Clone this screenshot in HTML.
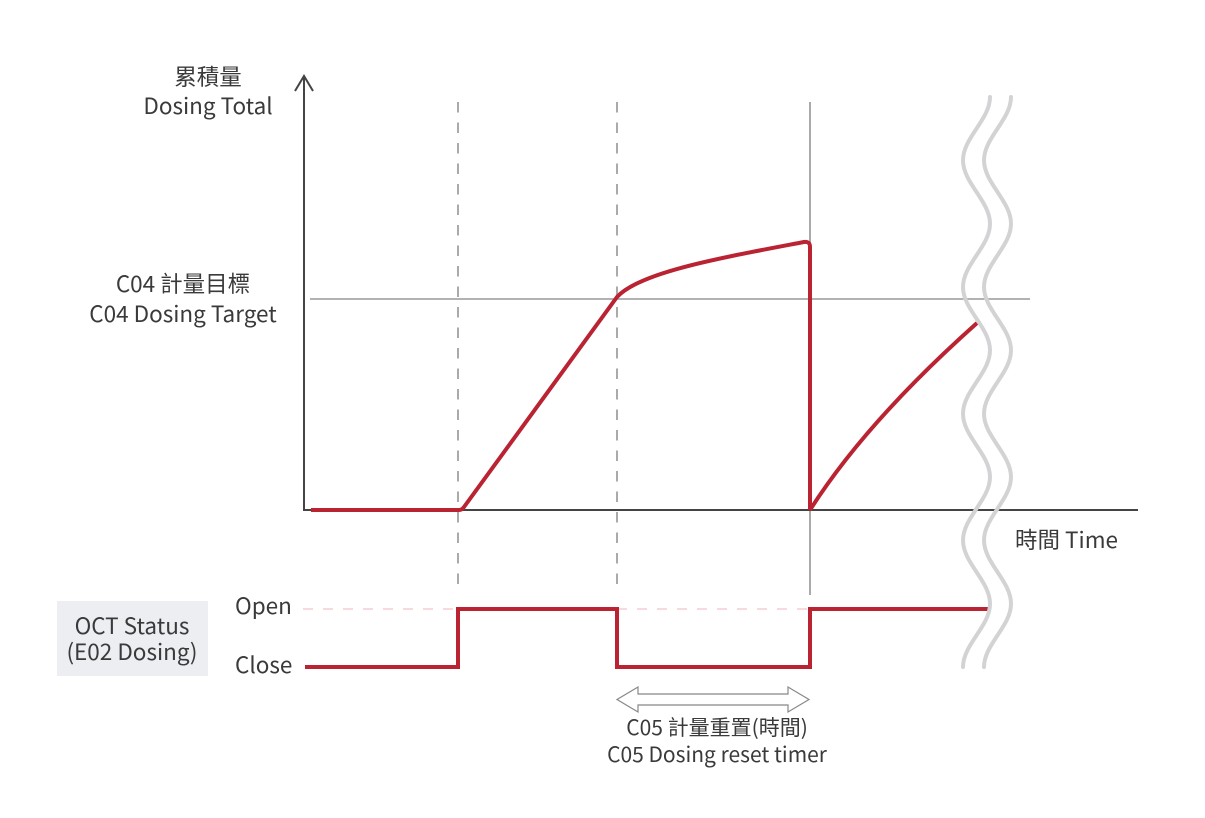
<!DOCTYPE html>
<html><head><meta charset="utf-8"><style>
html,body{margin:0;padding:0;background:#fff;}
svg{display:block;}
text{font-family:"Noto Sans CJK TC","Liberation Sans","Noto Sans CJK SC",sans-serif;fill:#3a3a3a;font-size:22.5px;}
text.s{font-size:21px;}
</style></head><body>
<svg width="1205" height="818" viewBox="0 0 1205 818" xmlns="http://www.w3.org/2000/svg">
<rect width="1205" height="818" fill="#fff"/>
<!-- grey vertical guides -->
<line x1="458" y1="102" x2="458" y2="592" stroke="#aaa" stroke-width="2" stroke-dasharray="10.5 10"/>
<line x1="617" y1="102" x2="617" y2="592" stroke="#aaa" stroke-width="2" stroke-dasharray="10.5 10"/>
<line x1="810" y1="102" x2="810" y2="595" stroke="#aaa" stroke-width="2"/>
<!-- target line -->
<line x1="310" y1="299" x2="1030" y2="299" stroke="#999" stroke-width="1.5"/>
<!-- axes -->
<line x1="304" y1="76" x2="304" y2="511" stroke="#444" stroke-width="2"/>
<line x1="303" y1="510" x2="1138" y2="510" stroke="#444" stroke-width="2"/>
<polyline points="295,91 304,76 313,91" fill="none" stroke="#444" stroke-width="2"/>
<!-- open pink dashed -->
<line x1="303" y1="609" x2="458" y2="609" stroke="#f7d9de" stroke-width="2" stroke-dasharray="10 10"/>
<line x1="617" y1="609" x2="810" y2="609" stroke="#f7d9de" stroke-width="2" stroke-dasharray="10 10"/>
<!-- red curves -->
<path d="M311 510 L459 510 Q462 510 464 507 L617 297 C640 272 720 258 804 242 Q810 241 810 247 L810 510" fill="none" stroke="#b92332" stroke-width="4" stroke-linejoin="round"/>
<path d="M810 510 Q866 422 977 323" fill="none" stroke="#b92332" stroke-width="4"/>
<!-- status -->
<polyline points="305,667 458,667 458,609 617,609 617,667 810,667 810,609 990,609" fill="none" stroke="#b92332" stroke-width="4"/>
<!-- waves -->
<g fill="none" stroke="#d3d3d5" stroke-width="4" stroke-linecap="round">
<path d="M 990 97 C 990 119.8 963 137.5 963 160.3 C 963 183.1 990 200.9 990 223.7 C 990 246.5 963 264.2 963 287 C 963 309.8 990 327.5 990 350.3 C 990 373.1 963 390.9 963 413.7 C 963 436.5 990 454.2 990 477 C 990 499.8 963 517.5 963 540.3 C 963 563.1 990 580.9 990 603.7 C 990 626.5 963 644.2 963 667"/>
<path transform="translate(21,0)" d="M 990 97 C 990 119.8 963 137.5 963 160.3 C 963 183.1 990 200.9 990 223.7 C 990 246.5 963 264.2 963 287 C 963 309.8 990 327.5 990 350.3 C 990 373.1 963 390.9 963 413.7 C 963 436.5 990 454.2 990 477 C 990 499.8 963 517.5 963 540.3 C 963 563.1 990 580.9 990 603.7 C 990 626.5 963 644.2 963 667"/>
</g>
<!-- OCT box -->
<rect x="57" y="601" width="151" height="75" fill="#eceef1"/>
<!-- double arrow -->
<polygon points="617,699.5 638,687 638,694 788,694 788,687 809,699.5 788,712 788,705 638,705 638,712" fill="#fff" stroke="#888" stroke-width="1.2"/>
<!-- texts -->
<text x="208" y="85" text-anchor="middle">累積量</text>
<text x="208" y="114" text-anchor="middle">Dosing Total</text>
<text x="183" y="292" text-anchor="middle">C04 計量目標</text>
<text x="183" y="322" text-anchor="middle">C04 Dosing Target</text>
<text x="1015" y="548">時間 Time</text>
<text x="235" y="614">Open</text>
<text x="235" y="673">Close</text>
<text x="132" y="634" text-anchor="middle">OCT Status</text>
<text x="132" y="660" text-anchor="middle">(E02 Dosing)</text>
<text class="s" x="717" y="735" text-anchor="middle">C05 計量重置(時間)</text>
<text class="s" x="717" y="762" text-anchor="middle">C05 Dosing reset timer</text>
</svg>
</body></html>
